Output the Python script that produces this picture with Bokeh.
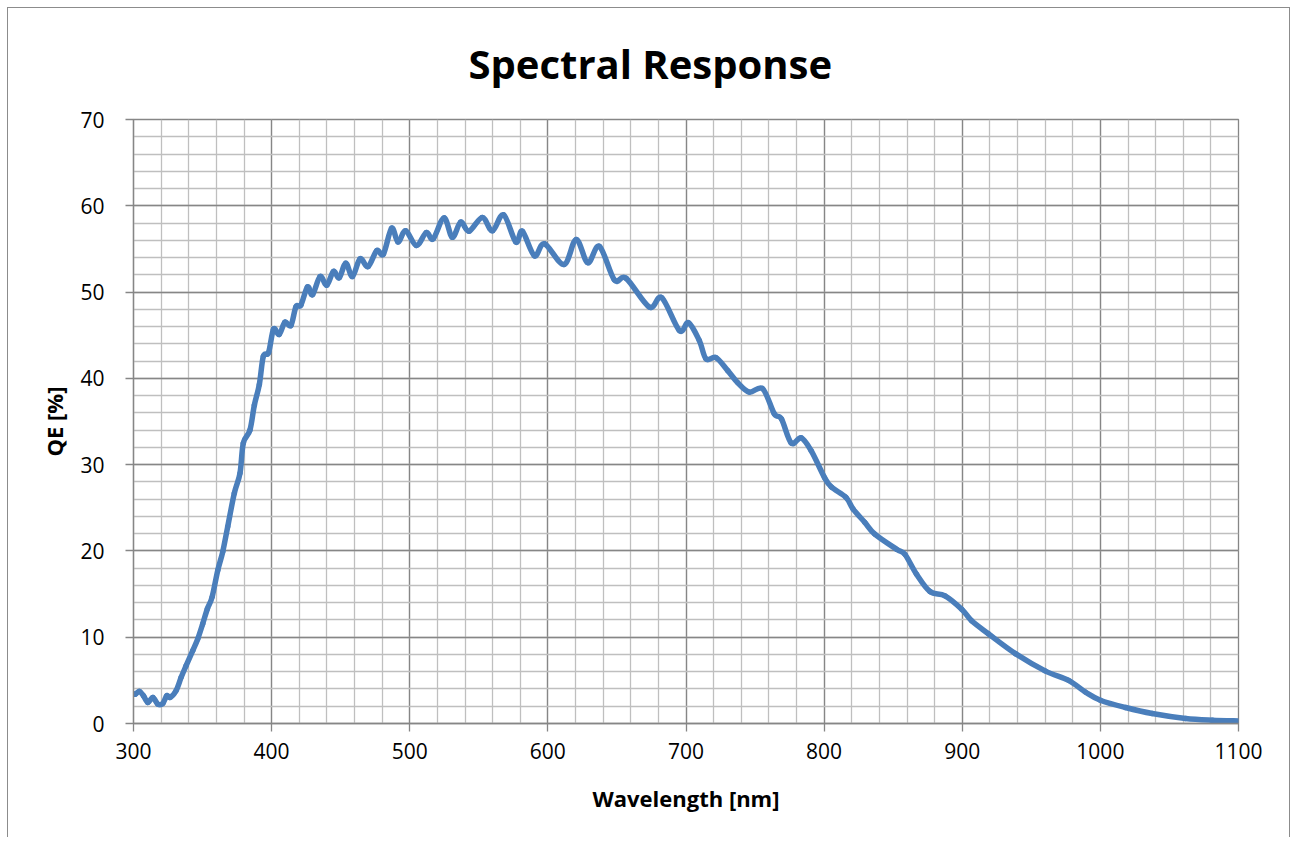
import numpy as np
from bokeh.plotting import figure
from bokeh.models import FixedTicker, Range1d, ColumnDataSource
from bokeh.embed import file_html
from bokeh.resources import INLINE

# ---- data ----
wavelength_nm = [
    300.0, 301.4, 304.3, 307.2, 310.4, 314.0, 317.6, 321.2, 324.1, 326.5,
    330.8, 334.5, 338.1, 342.9, 346.5, 350.1, 353.5, 356.9, 361.0, 364.6,
    368.2, 373.0, 377.1, 379.5, 384.3, 387.5, 391.1, 394.0, 397.8, 401.4,
    405.5, 409.6, 414.0, 417.6, 421.2, 426.0, 429.6, 435.1, 439.9, 444.8,
    448.9, 453.7, 458.5, 464.0, 469.8, 476.1, 480.9, 486.9, 491.5, 497.0,
    504.8, 512.0, 516.9, 524.8, 530.8, 536.9, 542.9, 552.5, 559.8, 567.9,
    576.8, 581.5, 590.3, 597.5, 611.6, 620.5, 628.9, 637.3, 648.2, 656.6,
    673.5, 682.4, 695.2, 701.8, 709.6, 714.5, 721.7, 730.2, 737.4, 745.8,
    755.5, 763.9, 769.1, 776.2, 783.4, 790.7, 800.3, 805.3, 815.8, 821.0,
    829.5, 836.7, 852.4, 858.5, 866.9, 876.6, 887.5, 899.6, 906.8, 918.9,
    938.5, 960.0, 977.0, 989.1, 1000.0, 1018.2, 1037.5, 1061.7, 1081.1, 1100.0,
]
qe_percent = [
    3.45, 3.41, 3.72, 3.22, 2.44, 3.02, 2.25, 2.33, 3.22, 3.02,
    3.80, 5.35, 6.70, 8.45, 9.80, 11.55, 13.3, 14.65, 17.75, 19.90,
    22.80, 26.70, 29.00, 32.50, 34.00, 36.90, 39.30, 42.55, 43.00, 45.70,
    45.10, 46.50, 46.15, 48.30, 48.50, 50.60, 49.70, 51.80, 50.80, 52.40,
    51.65, 53.35, 51.80, 53.85, 52.95, 54.80, 54.40, 57.40, 55.80, 57.10,
    55.40, 56.90, 56.15, 58.60, 56.35, 58.10, 57.05, 58.65, 57.10, 58.95,
    55.80, 57.05, 54.20, 55.60, 53.20, 56.10, 53.40, 55.30, 51.40, 51.60,
    48.25, 49.35, 45.55, 46.45, 44.40, 42.25, 42.40, 40.90, 39.50, 38.40,
    38.80, 35.90, 35.30, 32.50, 33.10, 31.60, 28.50, 27.40, 26.20, 24.85,
    23.30, 21.95, 20.20, 19.60, 17.30, 15.30, 14.80, 13.25, 11.90, 10.40,
    8.10, 6.10, 5.00, 3.65, 2.70, 1.85, 1.15, 0.58, 0.38, 0.30,
]

x_major_ticks = [300, 400, 500, 600, 700, 800, 900, 1000, 1100]
x_minor_ticks = list(range(300, 1101, 20))
y_major_ticks = [0, 10, 20, 30, 40, 50, 60, 70]
y_minor_ticks = list(range(0, 71, 2))

title_text = "Spectral Response"
x_label = "Wavelength [nm]"
y_label = "QE [%]"

FONT = "Open Sans"
MAJOR = "#868686"
MINOR = "#bfbfbf"
LINE = "#4a7ebb"

p = figure(
    width=1283, height=830,
    x_range=Range1d(300, 1100), y_range=Range1d(0, 70),
    output_backend="svg", toolbar_location=None,
    min_border_left=125, min_border_right=53,
    min_border_top=111, min_border_bottom=115,
    background_fill_color="white", border_fill_color="white",
)
p.styles = {
    "margin-left": "7px",
    "margin-top": "7px",
    "border-top": "1px solid #8c8c8c",
    "border-left": "1px solid #8c8c8c",
    "border-right": "1px solid #8c8c8c",
}
p.outline_line_color = MAJOR
p.outline_line_width = 1.3

p.title.text = title_text
p.title.align = "left"
p.title.vertical_align = "top"
p.title.offset = 335
p.title.standoff = 53
p.title.text_font = FONT
p.title.text_font_size = "40px"
p.title.text_font_style = "bold"
p.title.text_color = "black"

p.xaxis.ticker = FixedTicker(ticks=x_major_ticks, minor_ticks=x_minor_ticks)
p.yaxis.ticker = FixedTicker(ticks=y_major_ticks, minor_ticks=y_minor_ticks)

for g in (p.xgrid, p.ygrid):
    g.grid_line_color = MAJOR
    g.grid_line_width = 1.3
    g.minor_grid_line_color = MINOR
    g.minor_grid_line_width = 1.3

for ax in (p.xaxis, p.yaxis):
    ax.axis_line_color = MAJOR
    ax.axis_line_width = 1.3
    ax.major_tick_line_color = MAJOR
    ax.major_tick_line_width = 1.3
    ax.major_tick_out = 8
    ax.major_tick_in = 0
    ax.minor_tick_line_color = None
    ax.major_label_text_font = FONT
    ax.major_label_text_font_size = "21px"
    ax.major_label_text_color = "black"
    ax.axis_label_text_font = FONT
    ax.axis_label_text_font_size = "22px"
    ax.axis_label_text_font_style = "bold"
    ax.axis_label_text_color = "black"

p.xaxis.axis_label = x_label
p.yaxis.axis_label = y_label
p.xaxis.major_label_standoff = 11
p.yaxis.major_label_standoff = 21
p.xaxis.axis_label_standoff = 21
p.yaxis.axis_label_standoff = 8

# smoothed line (Catmull-Rom as Bezier segments through the read points)
xs = np.asarray(wavelength_nm)
ys = np.asarray(qe_percent)
n = len(xs)
xp = np.concatenate([[xs[0]], xs, [xs[-1]]])
yp = np.concatenate([[ys[0]], ys, [ys[-1]]])
seg = ColumnDataSource(dict(
    x0=xs[:-1], y0=ys[:-1], x1=xs[1:], y1=ys[1:],
    cx0=xs[:-1] + (xp[2:n + 1] - xp[:n - 1]) / 6.0,
    cy0=ys[:-1] + (yp[2:n + 1] - yp[:n - 1]) / 6.0,
    cx1=xs[1:] - (xp[3:n + 2] - xp[1:n]) / 6.0,
    cy1=ys[1:] - (yp[3:n + 2] - yp[1:n]) / 6.0,
))
p.bezier(x0="x0", y0="y0", x1="x1", y1="y1", cx0="cx0", cy0="cy0",
         cx1="cx1", cy1="cy1", source=seg, line_width=5.5, line_color=LINE,
         line_cap="round", line_join="round")

open("out.html", "w").write(file_html(p, INLINE))
